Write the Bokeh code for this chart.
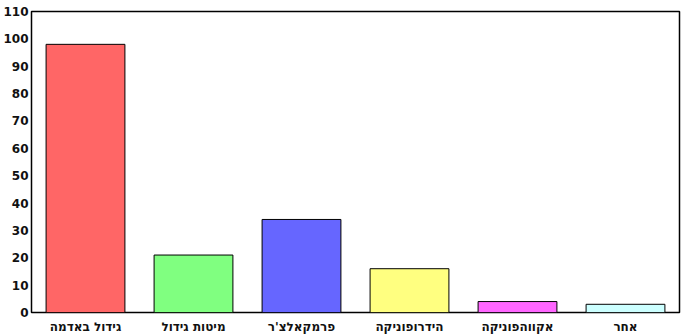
from bokeh.plotting import figure
from bokeh.models import ColumnDataSource, Range1d, FixedTicker, FactorRange
from bokeh.embed import file_html
from bokeh.resources import INLINE

categories = ["גידול באדמה", "מיטות גידול", "פרמקאלצ'ר", "הידרופוניקה", "אקווהפוניקה", "אחר"]
values = [98, 21, 34, 16, 4, 3]
colors = ["#FF6666", "#80FF80", "#6666FF", "#FFFF80", "#FF66FF", "#CCFFFF"]
y_ticks = list(range(0, 111, 10))

src = ColumnDataSource(dict(cat=categories, val=values, color=colors))

p = figure(width=694, height=336, x_range=FactorRange(*categories), y_range=Range1d(0, 110),
           output_backend="svg", toolbar_location=None,
           min_border_left=31, min_border_right=15, min_border_top=11, min_border_bottom=24)
p.vbar(x="cat", top="val", width=0.73, source=src, fill_color="color",
       line_color="black", line_width=1)

p.outline_line_color = "black"
p.outline_line_width = 1.5
p.outline_line_alpha = 1
p.xgrid.visible = False
p.ygrid.visible = False
p.x_range.range_padding = 0
p.yaxis.ticker = FixedTicker(ticks=y_ticks)
for ax in (p.xaxis[0], p.yaxis[0]):
    ax.axis_line_color = None
    ax.major_tick_line_color = None
    ax.minor_tick_line_color = None
    ax.major_tick_out = 0
    ax.major_tick_in = 0
    ax.minor_tick_out = 0
    ax.minor_tick_in = 0
    ax.major_label_text_font = "DejaVu Sans"
    ax.major_label_text_font_style = "bold"
    ax.major_label_text_font_size = "12px"
    ax.major_label_text_color = "#111111"
p.yaxis.major_label_standoff = 3
p.xaxis.major_label_standoff = 7
p.background_fill_color = "white"
p.border_fill_color = "white"

open("out.html", "w").write(file_html(p, INLINE))
